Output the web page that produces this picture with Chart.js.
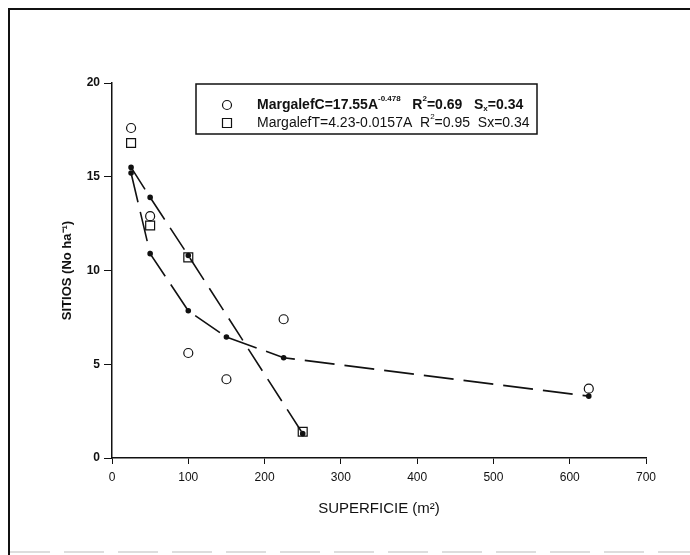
<!DOCTYPE html>
<html>
<head>
<meta charset="utf-8">
<script src="https://cdn.jsdelivr.net/npm/chart.js@4.4.0/dist/chart.umd.min.js"></script>
<style>
    html, body { margin: 0; padding: 0; background: #fff; }
</style>
</head>
<body>
<canvas id="myChart" width="690" height="555"></canvas>
<script>
// observed values
const areaC = [25, 50, 100, 150, 225, 625];
const margalefC = [17.6, 12.9, 5.6, 4.2, 7.4, 3.7];
const areaT = [25, 50, 100, 250];
const margalefT = [16.8, 12.4, 10.7, 1.4];
// fitted curves
const fitC = [15.2, 10.9, 7.85, 6.45, 5.35, 3.3];
const fitT = [15.5, 13.9, 10.8, 1.3];

const legendRows = [
    { marker: 'circle', bold: true, runs: [['MargalefC=17.55A'], ['-0.478', 'sup'], ['   R'], ['2', 'sup'], ['=0.69   S'], ['x', 'sub'], ['=0.34']] },
    { marker: 'rect', bold: false, runs: [['MargalefT=4.23-0.0157A  R'], ['2', 'sup'], ['=0.95  Sx=0.34']] }
];

function pts(xs, ys) {
    return xs.map((x, i) => ({ x: x, y: ys[i] }));
}

// zero out label padding so chart area sits where we want
function fixBox(size, key) {
    return function (s) {
        s[key] = size;
        s.paddingLeft = 0; s.paddingRight = 0; s.paddingTop = 0; s.paddingBottom = 0;
    };
}

const frameAndLegend = {
    id: 'frameAndLegend',
    afterDraw(chart) {
        const c = chart.ctx;
        c.save();
        // scanned figure frame
        c.strokeStyle = '#111';
        c.lineWidth = 2;
        c.beginPath();
        c.moveTo(9, 555); c.lineTo(9, 9); c.lineTo(690, 9);
        c.stroke();
        c.strokeStyle = '#ddd';
        c.lineWidth = 2;
        c.setLineDash([40, 14]);
        c.beginPath();
        c.moveTo(10, 552); c.lineTo(690, 552);
        c.stroke();
        c.setLineDash([]);

        // legend box
        const bx = 196, by = 84, bw = 341, bh = 50;
        c.strokeStyle = '#111';
        c.lineWidth = 1.5;
        c.strokeRect(bx, by, bw, bh);
        legendRows.forEach((row, i) => {
            const y = by + 21 + i * 18;
            const mx = 227;
            c.lineWidth = 1.2;
            c.beginPath();
            if (row.marker === 'circle') c.arc(mx, y, 4.5, 0, Math.PI * 2);
            else c.rect(mx - 4.5, y - 4.5, 9, 9);
            c.stroke();
            let x = 257;
            const w = row.bold ? 'bold ' : '';
            c.fillStyle = '#111';
            c.textBaseline = 'middle';
            row.runs.forEach(r => {
                let dy = 0;
                if (r[1] === 'sup') { c.font = w + '8px "Liberation Sans"'; dy = -6; }
                else if (r[1] === 'sub') { c.font = w + '8px "Liberation Sans"'; dy = 4; }
                else c.font = w + '14px "Liberation Sans"';
                c.fillText(r[0], x, y + dy);
                x += c.measureText(r[0]).width;
            });
        });
        c.restore();
    }
};

const ctx = document.getElementById('myChart');

new Chart(ctx, {
    type: 'scatter',
    data: {
        datasets: [
            {
                label: 'MargalefC',
                data: pts(areaC, margalefC),
                pointStyle: 'circle',
                pointRadius: 4.5,
                borderColor: '#111',
                borderWidth: 1.2,
                backgroundColor: 'rgba(255,255,255,0)'
            },
            {
                label: 'MargalefT',
                data: pts(areaT, margalefT),
                pointStyle: 'rect',
                pointRadius: 6.3,
                borderColor: '#111',
                borderWidth: 1.2,
                backgroundColor: 'rgba(255,255,255,0)'
            },
            {
                label: 'fit C',
                data: pts(areaC, fitC),
                showLine: true,
                borderDash: [30, 10],
                borderColor: '#111',
                borderWidth: 1.6,
                pointRadius: 2,
                backgroundColor: '#111'
            },
            {
                label: 'fit T',
                data: pts(areaT, fitT),
                showLine: true,
                borderDash: [26, 10],
                borderColor: '#111',
                borderWidth: 1.6,
                pointRadius: 2,
                backgroundColor: '#111'
            }
        ]
    },
    options: {
        responsive: false,
        animation: false,
        devicePixelRatio: 1,
        layout: {
            padding: { left: 0, top: 83, right: 44, bottom: 0 }
        },
        plugins: {
            legend: { display: false },
            title: { display: false },
            tooltip: { enabled: false }
        },
        scales: {
            x: {
                type: 'linear',
                min: 0,
                max: 700,
                ticks: {
                    stepSize: 100,
                    color: '#111',
                    padding: 6,
                    font: { family: '"Liberation Sans"', size: 12 }
                },
                grid: {
                    drawOnChartArea: false,
                    tickLength: 6,
                    color: '#111'
                },
                border: { color: '#111', width: 1.5 },
                title: {
                    display: true,
                    text: 'SUPERFICIE (m²)',
                    color: '#111',
                    font: { family: '"Liberation Sans"', size: 15 },
                    padding: { top: 0, bottom: 37 }
                },
                afterFit: fixBox(97, 'height')
            },
            y: {
                type: 'linear',
                min: 0,
                max: 20,
                ticks: {
                    stepSize: 5,
                    color: '#111',
                    padding: 4,
                    font: { family: '"Liberation Sans"', size: 12, weight: 'bold' }
                },
                grid: {
                    drawOnChartArea: false,
                    tickLength: 8,
                    color: '#111'
                },
                border: { color: '#111', width: 1.5 },
                title: {
                    display: true,
                    text: 'SITIOS (No ha⁻¹)',
                    color: '#111',
                    font: { family: '"Liberation Sans"', size: 13, weight: 'bold' },
                    padding: { top: 60, bottom: 0 }
                },
                afterFit: fixBox(112, 'width')
            }
        }
    },
    plugins: [frameAndLegend]
});
</script>
</body>
</html>
